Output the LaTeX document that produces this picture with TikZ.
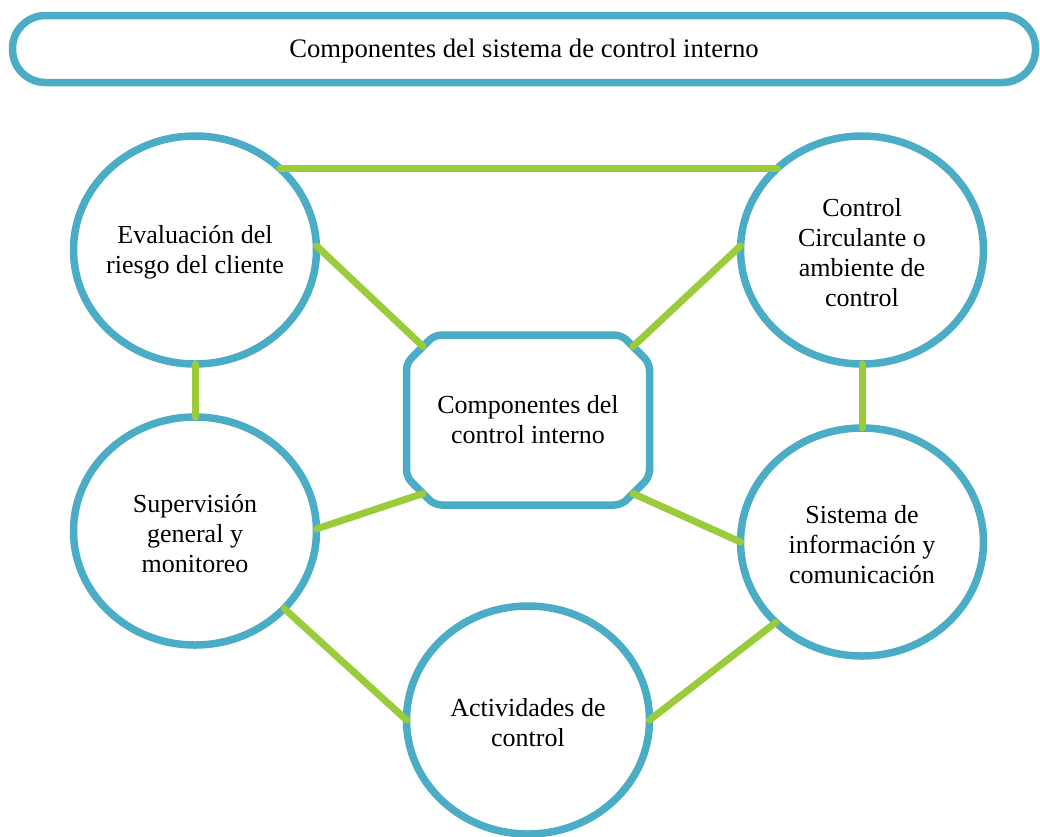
\documentclass[tikz,border=0pt]{standalone}
\usepackage{fontspec}
\setmainfont{Liberation Serif}
\usetikzlibrary{shapes.geometric,shapes.misc}
\definecolor{ringblue}{RGB}{75,172,198}
\definecolor{linkgreen}{RGB}{154,203,58}
\begin{document}
\begin{tikzpicture}[x=1pt,y=-1pt,
  txt/.style={align=center,font=\fontsize{26}{30}\selectfont},
  ring/.style={ellipse,draw=ringblue,line width=7.5pt,fill=white,
    minimum width=243pt,minimum height=228pt,inner sep=0pt,outer sep=0pt},
  lbl/.style={txt,inner sep=0pt,yshift=-2.5pt},
  plaque/.style={chamfered rectangle,chamfered rectangle sep=14pt,
    draw=ringblue,line width=7.5pt,fill=white,rounded corners=7pt,
    minimum width=243pt,minimum height=170pt,inner sep=0pt,outer sep=0pt,txt},
  titlebox/.style={draw=ringblue,line width=7.5pt,rounded corners=33pt,
    minimum width=1023pt,minimum height=67pt,inner sep=0pt,
    align=center,font=\fontsize{26.7}{30}\selectfont,
    text height=20pt,text depth=4pt},
  link/.style={draw=linkgreen,line width=7pt,line cap=round}]
\useasboundingbox (0,0) rectangle (1040,836);

% heading banner
\node[titlebox] (title) at (524,49) {Componentes del sistema de control interno};

% the five components around the centre
\node[ring,label={[lbl]center:{Evaluación del\\riesgo del cliente}}] (eval) at (195,250) {};
\node[ring,label={[lbl]center:{Control\\Circulante o\\ambiente de\\control}}] (ctrl) at (862,250) {};
\node[ring,label={[lbl]center:{Supervisión\\general y\\monitoreo}}] (sup) at (195,531) {};
\node[ring,label={[lbl]center:{Sistema de\\información y\\comunicación}}] (sis) at (862,542) {};
\node[ring,label={[lbl]center:{Actividades de\\control}}] (act) at (528,720) {};

% central block
\node[plaque] (core) at (528,420) {Componentes del\\control interno};

% links
\draw[link] (eval.44) -- (ctrl.136);
\draw[link] (eval.2) -- (core.145);
\draw[link] (ctrl.178) -- (core.35);
\draw[link] (eval.270) -- (sup.90);
\draw[link] (ctrl.270) -- (sis.90);
\draw[link] (core.215) -- (sup.1);
\draw[link] (core.-35) -- (sis.180);
\draw[link] (sup.-41) -- (act.180);
\draw[link] (sis.-137) -- (act.0);
\end{tikzpicture}
\end{document}
